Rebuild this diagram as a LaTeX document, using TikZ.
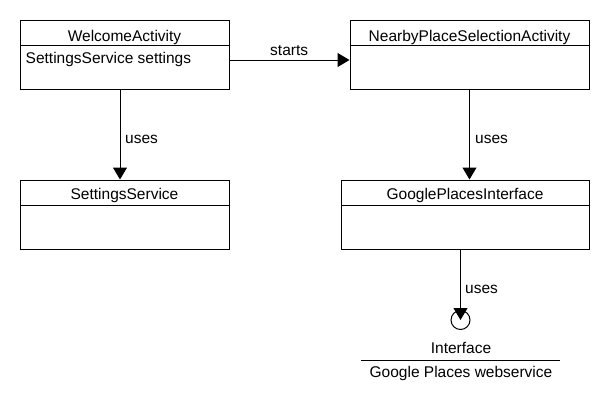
\documentclass[tikz,border=0pt]{standalone}
\usepackage{fontspec}
\setmainfont{Liberation Sans}
\usetikzlibrary{arrows.meta}
\tikzset{
  cls/.style={draw, line width=1pt, inner sep=0pt, fill=white},
  txt/.style={inner sep=0pt, font=\fontsize{15.5}{18}\selectfont},
  arr/.style={draw, line width=1pt, -{Triangle[width=14pt,length=12pt]}},
  ln/.style={draw, line width=1pt}
}
\begin{document}
\begin{tikzpicture}[x=1pt,y=-1pt]
\useasboundingbox (0,0) rectangle (610,410);
% boxes
\node[cls, minimum width=209pt, minimum height=69pt] (welcome) at (124.5,54.5) {};
\node[cls, minimum width=239pt, minimum height=69pt] (nearby) at (469.5,54.5) {};
\node[cls, minimum width=209pt, minimum height=69pt] (settings) at (124.5,214.5) {};
\node[cls, minimum width=248pt, minimum height=69pt] (gpi) at (465,214.5) {};
% dividers
\draw[ln] (20,45) -- (229,45);
\draw[ln] (350,45) -- (589,45);
\draw[ln] (20,205.5) -- (229,205.5);
\draw[ln] (341,205.5) -- (589,205.5);
% texts
\node[txt, anchor=base] (welcomeT) at (124.5,41.5) {WelcomeActivity};
\node[txt, anchor=base west] (welcomeA) at (25.5,63) {SettingsService settings};
\node[txt, anchor=base] (nearbyT) at (469.5,41.5) {NearbyPlaceSelectionActivity};
\node[txt, anchor=base] (settingsT) at (124.5,199.5) {SettingsService};
\node[txt, anchor=base] (gpiT) at (465,199.5) {GooglePlacesInterface};
% interface
\node[draw, circle, line width=1pt, minimum size=19pt, inner sep=0pt] (iface) at (460.5,320) {};
\node[txt, anchor=base] (ifaceT) at (461,353.5) {Interface};
\coordinate (ulL) at (361,360);
\coordinate (ulR) at (560,360);
\draw[ln] (ulL) -- (ulR);
\node[txt, anchor=base] (ifaceN) at (461,377.5) {Google Places webservice};
% connectors
\draw[arr] ([yshift=-5.5pt]welcome.east) -- ([yshift=-5.5pt]nearby.west);
\node[txt, anchor=base west] (startsL) at (270,55) {starts};
\draw[arr] ([xshift=-4.5pt]welcome.south) -- ([xshift=-4.5pt]settings.north);
\node[txt, anchor=base west] (uses1) at (125,143.3) {uses};
\draw[arr] (nearby.south) -- (nearby.south |- gpi.north);
\node[txt, anchor=base west] (uses2) at (475,143.3) {uses};
\draw[arr] ([xshift=-4.5pt]gpi.south) -- (iface.center);
\node[txt, anchor=base west] (uses3) at (465,293.3) {uses};
\end{tikzpicture}
\end{document}
